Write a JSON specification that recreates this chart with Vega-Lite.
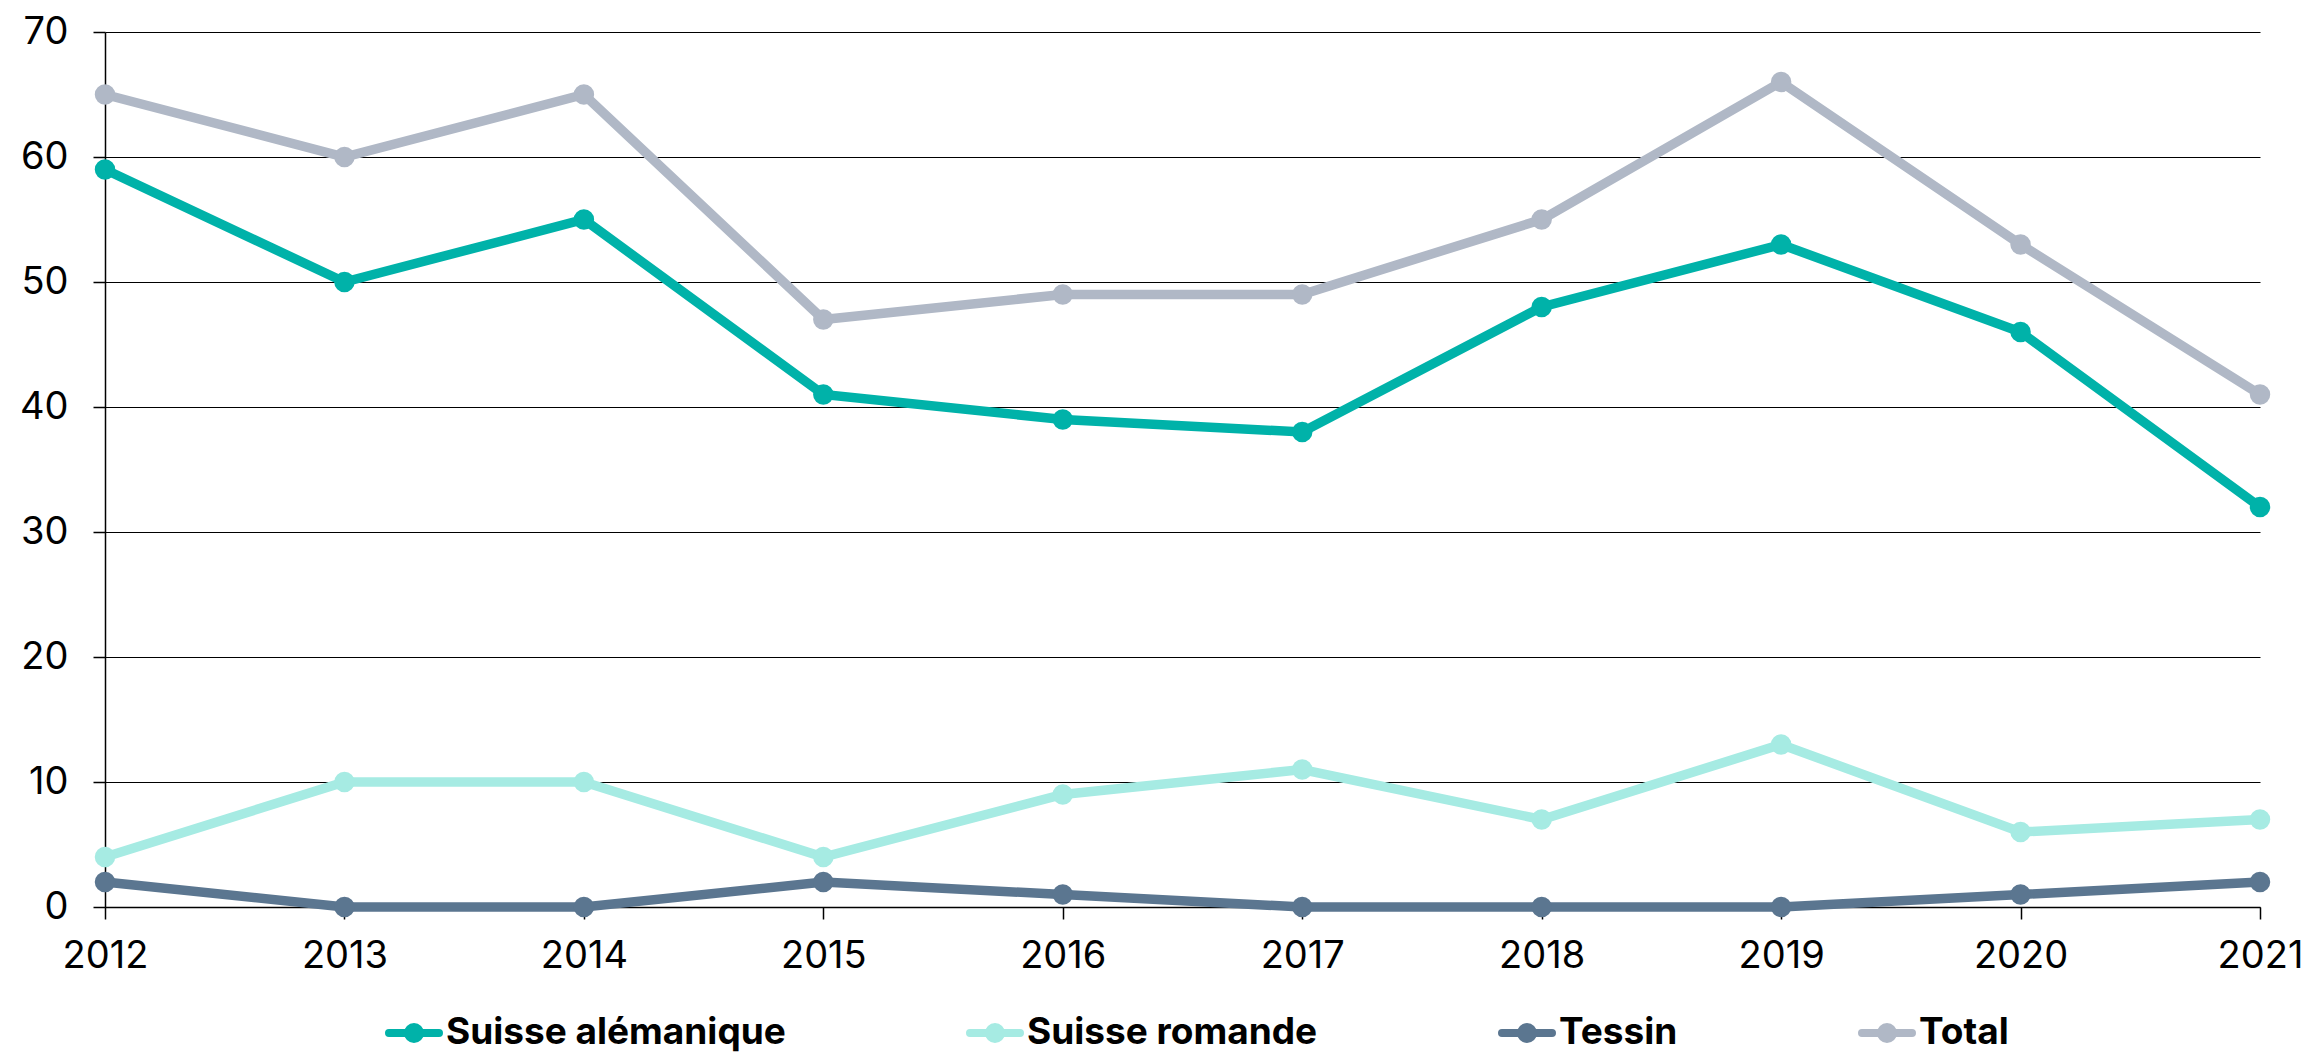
{
  "$schema": "https://vega.github.io/schema/vega-lite/v6.json",
  "width": 2155,
  "height": 875,
  "autosize": {"type": "none"},
  "padding": {"left": 105, "top": 32, "right": 53, "bottom": 145},
  "background": "white",
  "config": {
    "view": {"stroke": null},
    "font": "Inter",
    "axis": {"labelFont": "Inter", "labelFontSize": 38, "labelColor": "#000", "tickColor": "#000", "domainColor": "#000", "tickSize": 12, "tickWidth": 1.5, "domainWidth": 1.5, "title": null}
  },
  "data": {
    "values": [
      {"year": "2012", "region": "Suisse alémanique", "v": 59},
      {"year": "2013", "region": "Suisse alémanique", "v": 50},
      {"year": "2014", "region": "Suisse alémanique", "v": 55},
      {"year": "2015", "region": "Suisse alémanique", "v": 41},
      {"year": "2016", "region": "Suisse alémanique", "v": 39},
      {"year": "2017", "region": "Suisse alémanique", "v": 38},
      {"year": "2018", "region": "Suisse alémanique", "v": 48},
      {"year": "2019", "region": "Suisse alémanique", "v": 53},
      {"year": "2020", "region": "Suisse alémanique", "v": 46},
      {"year": "2021", "region": "Suisse alémanique", "v": 32},
      {"year": "2012", "region": "Suisse romande", "v": 4},
      {"year": "2013", "region": "Suisse romande", "v": 10},
      {"year": "2014", "region": "Suisse romande", "v": 10},
      {"year": "2015", "region": "Suisse romande", "v": 4},
      {"year": "2016", "region": "Suisse romande", "v": 9},
      {"year": "2017", "region": "Suisse romande", "v": 11},
      {"year": "2018", "region": "Suisse romande", "v": 7},
      {"year": "2019", "region": "Suisse romande", "v": 13},
      {"year": "2020", "region": "Suisse romande", "v": 6},
      {"year": "2021", "region": "Suisse romande", "v": 7},
      {"year": "2012", "region": "Tessin", "v": 2},
      {"year": "2013", "region": "Tessin", "v": 0},
      {"year": "2014", "region": "Tessin", "v": 0},
      {"year": "2015", "region": "Tessin", "v": 2},
      {"year": "2016", "region": "Tessin", "v": 1},
      {"year": "2017", "region": "Tessin", "v": 0},
      {"year": "2018", "region": "Tessin", "v": 0},
      {"year": "2019", "region": "Tessin", "v": 0},
      {"year": "2020", "region": "Tessin", "v": 1},
      {"year": "2021", "region": "Tessin", "v": 2},
      {"year": "2012", "region": "Total", "v": 65},
      {"year": "2013", "region": "Total", "v": 60},
      {"year": "2014", "region": "Total", "v": 65},
      {"year": "2015", "region": "Total", "v": 47},
      {"year": "2016", "region": "Total", "v": 49},
      {"year": "2017", "region": "Total", "v": 49},
      {"year": "2018", "region": "Total", "v": 55},
      {"year": "2019", "region": "Total", "v": 66},
      {"year": "2020", "region": "Total", "v": 53},
      {"year": "2021", "region": "Total", "v": 41}
    ]
  },
  "mark": {"type": "line", "strokeWidth": 9.5, "point": {"filled": true, "size": 420, "opacity": 1}},
  "encoding": {
    "x": {
      "field": "year", "type": "ordinal",
      "scale": {"type": "point", "padding": 0},
      "axis": {"labelAngle": 0, "labelPadding": 18, "grid": false}
    },
    "y": {
      "field": "v", "type": "quantitative",
      "scale": {"domain": [0, 70], "nice": false},
      "axis": {"values": [0, 10, 20, 30, 40, 50, 60, 70], "labelPadding": 25, "grid": true, "gridColor": "#000", "gridWidth": 1}
    },
    "color": {
      "field": "region", "type": "nominal",
      "scale": {"domain": ["Suisse alémanique", "Suisse romande", "Tessin", "Total"], "range": ["#00b2a9", "#a6ebe3", "#5b7690", "#b0b8c6"]},
      "legend": {
        "title": null,
        "orient": "none",
        "direction": "horizontal",
        "legendX": 280,
        "legendY": 972,
        "columnPadding": 168,
        "labelOffset": 3,
        "labelFont": "Inter",
        "labelFontWeight": "bold",
        "labelFontSize": 37,
        "labelColor": "#000",
        "labelLimit": 1000,
        "symbolType": "M-1,0L1,0M-0.24,0A0.24,0.24 0 1,1 0.24,0A0.24,0.24 0 1,1 -0.24,0Z",
        "symbolSize": 2500,
        "symbolStrokeWidth": 8,
        "encode": {
          "symbols": {"update": {"fill": {"scale": "color", "field": "value"}, "stroke": {"scale": "color", "field": "value"}, "strokeCap": {"value": "round"}, "opacity": {"value": 1}}}
        }
      }
    }
  }
}
